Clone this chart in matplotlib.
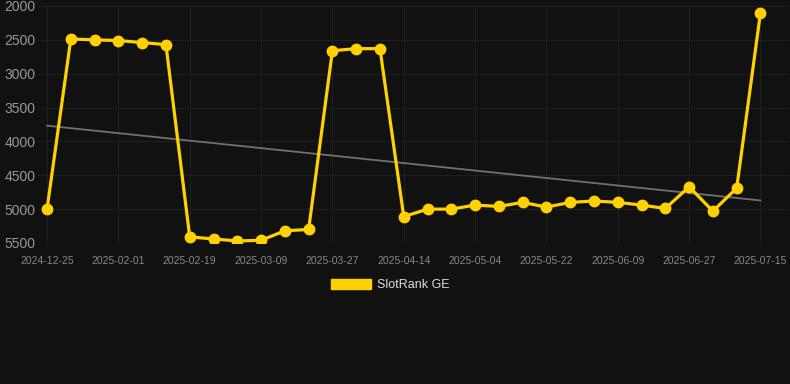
import numpy as np
import matplotlib
matplotlib.use("Agg")
import matplotlib.pyplot as plt
from matplotlib.patches import Patch

dates = [
    "2024-12-25", "2025-01-07", "2025-01-20", "2025-02-01", "2025-02-07", "2025-02-13",
    "2025-02-19", "2025-02-25", "2025-03-03", "2025-03-09", "2025-03-15", "2025-03-21",
    "2025-03-27", "2025-04-02", "2025-04-08", "2025-04-14", "2025-04-21", "2025-04-27",
    "2025-05-04", "2025-05-10", "2025-05-16", "2025-05-22", "2025-05-28", "2025-06-03",
    "2025-06-09", "2025-06-15", "2025-06-21", "2025-06-27", "2025-07-03", "2025-07-09",
    "2025-07-15",
]
rank = [
    5000, 2487, 2500, 2510, 2540, 2570,
    5410, 5440, 5470, 5460, 5320, 5300,
    2660, 2630, 2630, 5110, 5000, 5000,
    4940, 4960, 4900, 4970, 4900, 4880,
    4900, 4940, 4990, 4670, 5030, 4690,
    2100,
]
series_name = "SlotRank GE"

BG = "#111111"
GOLD = "#FFD100"
plt.rcParams["font.family"] = ["Liberation Sans", "DejaVu Sans"]

x = np.arange(len(dates))
slope, icpt = np.polyfit(x, rank, 1)  # trend line

fig = plt.figure(figsize=(7.9, 3.84), dpi=100, facecolor=BG)
ax = fig.add_axes([38 / 790, 1 - 243 / 384, (789 - 38) / 790, (243 - 6) / 384])
ax.set_facecolor(BG)

ax.plot(x, slope * x + icpt, color="#707070", lw=1.3, zorder=2)
ax.plot(x, rank, color=GOLD, lw=2.3, marker="o", ms=7.5, zorder=3)

ax.set_xlim(-0.38, 31.2)
ax.set_ylim(5500, 2000)
ax.set_yticks(np.arange(2000, 5501, 500))
ax.set_xticks(x[::3])
ax.set_xticklabels(dates[::3])
ax.grid(True, color="#1f1f1f", lw=0.8)
for s in ax.spines.values():
    s.set_visible(False)
ax.tick_params(axis="y", length=0, colors="#999999", labelsize=10, pad=2)
ax.tick_params(axis="x", length=0, colors="#888888", labelsize=7.5, pad=9)

fig.legend(handles=[Patch(facecolor=GOLD, edgecolor=GOLD)], labels=[series_name],
           loc="center", bbox_to_anchor=(0.494, 0.258), frameon=False,
           handlelength=3.2, handleheight=0.9, handletextpad=0.5,
           fontsize=9, labelcolor="#dddddd")

fig.savefig("out.png", dpi=100, facecolor=BG)
